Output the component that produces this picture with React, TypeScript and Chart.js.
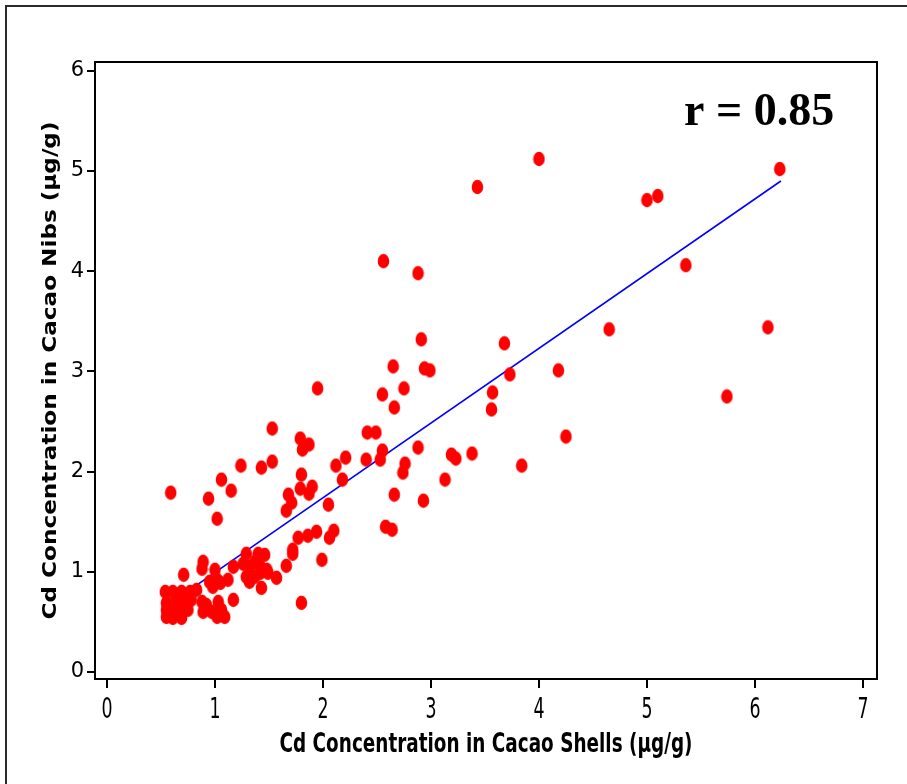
import React, { useEffect, useRef } from "react";
import { Chart, registerables } from "chart.js";
Chart.register(...registerables);

// Cd concentration in cacao shells (x, µg/g)
const shellsCd = [
  4.00, 3.43, 6.23, 5.00, 5.10, 5.36, 2.56, 2.88, 4.65, 6.12,
  2.91, 3.68, 2.65, 2.94, 2.99, 4.18, 3.73, 1.95, 2.75, 2.55,
  3.57, 5.74, 2.66, 3.56, 4.25, 2.41, 2.49, 1.79, 1.87, 1.81,
  2.88, 2.21, 2.12, 2.40, 2.53, 2.55, 2.76, 2.74, 3.19, 3.23,
  3.38, 3.84, 3.13, 1.80, 1.79, 1.90, 1.87, 2.18, 1.68, 1.71,
  1.66, 2.05, 2.66, 2.93, 1.77, 1.86, 1.94, 2.06, 2.10, 2.58,
  2.64, 1.72, 1.53, 1.24, 1.43, 1.53, 0.59, 1.06, 1.15, 0.94,
  1.02, 1.72, 1.99, 1.66, 1.80, 1.29, 1.40, 1.46, 1.26, 1.32,
  1.37, 1.42, 1.48, 1.29, 1.37, 1.42, 1.49, 1.57, 1.32, 1.43,
  1.17, 1.12, 0.89, 0.88, 1.00, 0.95, 1.02, 1.05, 0.98, 0.71,
  0.54, 0.61, 0.69, 0.77, 0.83, 0.55, 0.63, 0.71, 0.78, 0.88,
  0.92, 0.55, 0.61, 0.68, 0.75, 0.55, 0.61, 0.69, 0.89, 0.97,
  1.03, 1.06, 1.09, 1.02, 1.17,
];
// Cd concentration in cacao nibs (y, µg/g)
const nibsCd = [
  5.12, 4.84, 5.02, 4.71, 4.75, 4.06, 4.10, 3.98, 3.42, 3.44,
  3.32, 3.28, 3.05, 3.03, 3.01, 3.01, 2.97, 2.83, 2.83, 2.77,
  2.79, 2.75, 2.64, 2.62, 2.35, 2.39, 2.39, 2.33, 2.27, 2.22,
  2.24, 2.14, 2.06, 2.12, 2.12, 2.21, 2.08, 1.99, 2.17, 2.13,
  2.18, 2.06, 1.92, 1.97, 1.83, 1.85, 1.78, 1.92, 1.77, 1.69,
  1.61, 1.67, 1.77, 1.71, 1.34, 1.36, 1.40, 1.34, 1.41, 1.45,
  1.42, 1.22, 2.43, 2.06, 2.04, 2.10, 1.79, 1.92, 1.81, 1.73,
  1.53, 1.18, 1.12, 1.06, 0.69, 1.18, 1.18, 1.17, 1.08, 1.05,
  1.10, 1.05, 1.02, 0.95, 0.95, 0.99, 0.99, 0.94, 0.90, 0.84,
  1.05, 0.92, 1.10, 1.03, 1.02, 0.90, 0.92, 0.89, 0.85, 0.97,
  0.80, 0.80, 0.80, 0.80, 0.82, 0.69, 0.70, 0.70, 0.72, 0.70,
  0.67, 0.62, 0.60, 0.62, 0.62, 0.55, 0.54, 0.54, 0.60, 0.60,
  0.70, 0.62, 0.55, 0.55, 0.72,
];

// Least-squares fit line endpoints
const fitX = [0.70, 6.24];
const fitY = [0.77, 4.90];

const xTickValues = [0, 1, 2, 3, 4, 5, 6, 7];
const xTickLabels = ["0", "1", "2", "3", "4", "5", "6", "7"];
const yTickValues = [0, 1, 2, 3, 4, 5, 6];
const xRange = [-0.111, 7.13];
const yRange = [-0.07, 6.088];

const xTitle = "Cd Concentration in Cacao Shells (µg/g)";
const yTitle = "Cd Concentration in Cacao Nibs (µg/g)";
const rLabel = "r = 0.85";

function makeDot(): HTMLCanvasElement {
  const c = document.createElement("canvas");
  c.width = 13;
  c.height = 16;
  const g = c.getContext("2d")!;
  g.fillStyle = "#ff0000";
  g.beginPath();
  g.ellipse(6.5, 8, 5.8, 7.2, 0, 0, Math.PI * 2);
  g.fill();
  return c;
}

const framePlugin = {
  id: "framePlugin",
  afterDraw(chart: any) {
    const { ctx, chartArea: a } = chart;
    const xs = chart.scales.x;
    ctx.save();
    // outer figure frame
    ctx.strokeStyle = "#2a2a2a";
    ctx.lineWidth = 2;
    ctx.beginPath();
    ctx.moveTo(6, 790);
    ctx.lineTo(6, 6);
    ctx.lineTo(910, 6);
    ctx.stroke();
    // plot frame
    ctx.strokeStyle = "#000";
    ctx.lineWidth = 2;
    ctx.strokeRect(a.left, a.top, a.right - a.left, a.bottom - a.top);

    ctx.fillStyle = "#000";
    ctx.textBaseline = "alphabetic";
    ctx.textAlign = "center";
    // x tick labels (narrow, tall)
    ctx.font = '29px "DejaVu Sans"';
    xTickValues.forEach((v, i) => {
      const px = xs.getPixelForValue(v);
      ctx.save();
      ctx.translate(px, 718);
      ctx.scale(0.6, 1);
      ctx.fillText(xTickLabels[i], 0, 0);
      ctx.restore();
    });
    // x title (condensed)
    ctx.font = 'bold 27px "DejaVu Sans"';
    const wx = ctx.measureText(xTitle).width;
    ctx.save();
    ctx.translate((a.left + a.right) / 2, 752);
    ctx.scale(413 / wx, 1);
    ctx.fillText(xTitle, 0, 0);
    ctx.restore();
    // y title
    ctx.font = 'bold 19px "DejaVu Sans"';
    const wy = ctx.measureText(yTitle).width;
    ctx.save();
    ctx.translate(56, (a.top + a.bottom) / 2);
    ctx.rotate(-Math.PI / 2);
    ctx.scale(498 / wy, 1);
    ctx.fillText(yTitle, 0, 0);
    ctx.restore();
    // correlation label
    ctx.textAlign = "left";
    ctx.font = 'bold 46px "Liberation Serif"';
    ctx.fillText(rLabel, 684, 125);
    ctx.restore();
  },
};

export default function App() {
  const ref = useRef<HTMLCanvasElement>(null);
  useEffect(() => {
    const dot = makeDot();
    const points = shellsCd.map((x, i) => ({ x, y: nibsCd[i] }));
    const fit = fitX.map((x, i) => ({ x, y: fitY[i] }));
    const chart = new Chart(ref.current!, {
      type: "scatter",
      data: {
        datasets: [
          {
            label: "samples",
            data: points,
            pointStyle: dot as any,
            pointRadius: 6,
            order: 0,
          },
          {
            label: "fit",
            data: fit,
            showLine: true,
            borderColor: "#0000ff",
            borderWidth: 1.6,
            pointRadius: 0,
            order: 1,
          } as any,
        ],
      },
      options: {
        animation: false,
        responsive: false,
        layout: { padding: { top: 62, right: 30, left: 0, bottom: 0 } },
        plugins: { legend: { display: false }, tooltip: { enabled: false } },
        scales: {
          x: {
            type: "linear",
            min: xRange[0],
            max: xRange[1],
            afterBuildTicks: (s: any) => {
              s.ticks = xTickValues.map((v) => ({ value: v }));
            },
            afterFit: (s: any) => {
              s.height = 105;
            },
            ticks: { display: false, includeBounds: false },
            grid: { drawOnChartArea: false, drawTicks: true, tickLength: 9, color: "#000", lineWidth: 2 },
            border: { display: false },
          },
          y: {
            type: "linear",
            min: yRange[0],
            max: yRange[1],
            afterBuildTicks: (s: any) => {
              s.ticks = yTickValues.map((v) => ({ value: v }));
            },
            afterFit: (s: any) => {
              s.width = 95;
            },
            ticks: {
              includeBounds: false,
              color: "#000",
              padding: 3,
              font: { family: '"DejaVu Sans"', size: 21 },
            },
            grid: { drawOnChartArea: false, drawTicks: true, tickLength: 8, color: "#000", lineWidth: 2 },
            border: { display: false },
          },
        },
      },
      plugins: [framePlugin],
    });
    return () => chart.destroy();
  }, []);
  return (
    <div style={{ position: "fixed", left: 0, top: 0, width: 907, height: 784, background: "#fff" }}>
      <canvas ref={ref} width={907} height={784} style={{ width: 907, height: 784, display: "block" }} />
    </div>
  );
}
